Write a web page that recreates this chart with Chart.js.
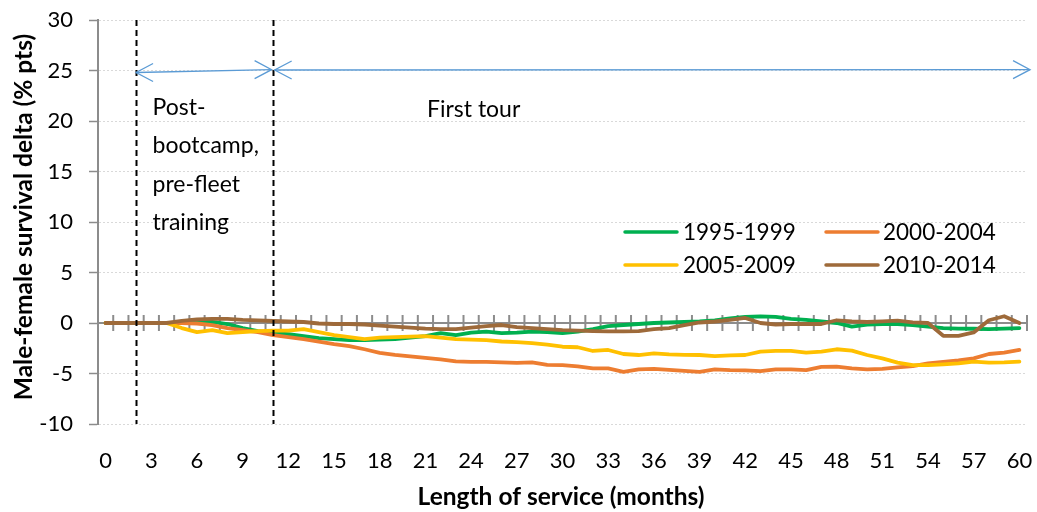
<!DOCTYPE html>
<html><head><meta charset="utf-8">
<script src="https://cdn.jsdelivr.net/npm/chart.js@4"></script>
<style>html,body{margin:0;padding:0;background:#fff}#wrap{width:1037px;height:512px}</style>
</head><body><div id="wrap"><canvas id="c" width="1037" height="512"></canvas></div>
<script>
// Categories: length of service (months)
const months = [0,1,2,3,4,5,6,7,8,9,10,11,12,13,14,15,16,17,18,19,20,21,22,23,24,25,26,27,28,29,30,31,32,33,34,35,36,37,38,39,40,41,42,43,44,45,46,47,48,49,50,51,52,53,54,55,56,57,58,59,60];
const xTickLabels = [0,3,6,9,12,15,18,21,24,27,30,33,36,39,42,45,48,51,54,57,60];
const yTickLabels = [-10,-5,0,5,10,15,20,25,30];
const seriesNames = ['1995-1999','2000-2004','2005-2009','2010-2014'];

const s1995 = [0,0,0,0,0,0,0.1,0.1,-0.1,-0.5,-0.8,-1.0,-1.1,-1.3,-1.5,-1.6,-1.7,-1.7,-1.65,-1.6,-1.45,-1.3,-1.0,-1.2,-0.95,-0.85,-1.0,-0.95,-0.85,-0.9,-1.0,-0.85,-0.6,-0.3,-0.2,-0.1,0,0.05,0.1,0.15,0.25,0.45,0.6,0.65,0.6,0.4,0.3,0.15,0,-0.35,-0.15,-0.1,-0.1,-0.2,-0.35,-0.5,-0.55,-0.57,-0.6,-0.55,-0.5];
const s2000 = [0,0,0,0,0,0,-0.05,-0.2,-0.5,-0.7,-0.9,-1.2,-1.4,-1.6,-1.85,-2.1,-2.3,-2.6,-2.95,-3.15,-3.3,-3.45,-3.6,-3.8,-3.85,-3.85,-3.9,-3.95,-3.9,-4.15,-4.17,-4.3,-4.5,-4.5,-4.83,-4.6,-4.55,-4.65,-4.75,-4.83,-4.6,-4.67,-4.7,-4.77,-4.6,-4.6,-4.67,-4.35,-4.33,-4.5,-4.6,-4.55,-4.4,-4.27,-4.0,-3.85,-3.7,-3.5,-3.07,-2.93,-2.67];
const s2005 = [0,0,0,0,0,-0.5,-0.9,-0.7,-1.0,-0.9,-0.8,-0.75,-0.75,-0.6,-0.9,-1.2,-1.4,-1.6,-1.45,-1.4,-1.35,-1.3,-1.45,-1.6,-1.65,-1.7,-1.83,-1.9,-2.0,-2.15,-2.35,-2.4,-2.77,-2.67,-3.07,-3.17,-3.0,-3.1,-3.15,-3.17,-3.27,-3.2,-3.17,-2.83,-2.75,-2.75,-2.93,-2.83,-2.6,-2.73,-3.17,-3.5,-3.93,-4.17,-4.17,-4.1,-4.0,-3.83,-3.93,-3.9,-3.83];
const s2010 = [0,0,0,0,0,0.2,0.35,0.4,0.4,0.3,0.25,0.2,0.15,0.1,-0.05,-0.1,-0.1,-0.15,-0.25,-0.35,-0.45,-0.55,-0.6,-0.6,-0.45,-0.3,-0.2,-0.4,-0.5,-0.6,-0.7,-0.75,-0.8,-0.83,-0.83,-0.8,-0.6,-0.5,-0.2,0.05,0.15,0.3,0.5,0,-0.15,-0.1,-0.1,-0.1,0.27,0.15,0.1,0.17,0.23,0.07,0,-1.27,-1.27,-0.93,0.27,0.67,0];

const colors = ['#00B050','#ED7D31','#FFC000','#9E6A3A'];
const seriesValues = [s1995,s2000,s2005,s2010];

// Annotation positions (in data units)
const phaseBounds = [2, 11];
const annotationTexts = ['Post-','bootcamp,','pre-fleet','training'];
const FONT = 'Lato';

const datasets = seriesValues.map((vals, i) => ({
  label: seriesNames[i],
  data: months.map((m, j) => ({x: m, y: vals[j]})),
  borderColor: colors[i],
  backgroundColor: colors[i],
  borderWidth: 3.8,
  pointRadius: 0,
  tension: 0,
  borderJoinStyle: 'round',
  borderCapStyle: 'round',
  fill: false,
  order: 4 - i
}));

function arrowHead(ctx, tx, ty, dir) {
  const L = 17, W = 9;
  ctx.beginPath();
  ctx.moveTo(tx - dir * L, ty - W);
  ctx.lineTo(tx, ty);
  ctx.lineTo(tx - dir * L, ty + W);
  ctx.stroke();
}
function arrow(ctx, x1, y1, x2, y2) {
  ctx.beginPath(); ctx.moveTo(x1, y1); ctx.lineTo(x2, y2); ctx.stroke();
  arrowHead(ctx, x1, y1, -1);
  arrowHead(ctx, x2, y2, 1);
}

const zeroAxis = {
  id: 'zeroAxis',
  beforeDatasetsDraw(chart) {
    const {ctx, chartArea, scales: {x, y}} = chart;
    const y0 = y.getPixelForValue(0);
    ctx.save();
    ctx.strokeStyle = '#8C8C8C';
    ctx.lineWidth = 2;
    ctx.beginPath(); ctx.moveTo(chartArea.left, y0); ctx.lineTo(chartArea.right, y0); ctx.stroke();
    for (let i = 0; i <= months.length; i++) {
      const px = x.getPixelForValue(months[0] - 0.5 + i);
      ctx.beginPath(); ctx.moveTo(px, y0 - 8); ctx.lineTo(px, y0 + 8); ctx.stroke();
    }
    ctx.restore();
  }
};

const overlay = {
  id: 'overlay',
  afterDatasetsDraw(chart) {
    const {ctx, chartArea, scales: {x, y}} = chart;
    ctx.save();
    // dashed phase boundaries
    ctx.strokeStyle = '#000';
    ctx.lineWidth = 2;
    ctx.setLineDash([6, 4]);
    phaseBounds.forEach(b => {
      const px = Math.round(x.getPixelForValue(b)) + 0.5;
      ctx.beginPath(); ctx.moveTo(px, y.getPixelForValue(30)); ctx.lineTo(px, y.getPixelForValue(-10)); ctx.stroke();
    });
    ctx.setLineDash([]);
    // arrows
    ctx.strokeStyle = '#5B9BD5';
    ctx.lineWidth = 1.3;
    arrow(ctx, x.getPixelForValue(2), y.getPixelForValue(24.8), x.getPixelForValue(10.9), y.getPixelForValue(25.08));
    arrow(ctx, x.getPixelForValue(11.1), y.getPixelForValue(25.05), x.getPixelForValue(60.7), y.getPixelForValue(25.08));
    // texts
    ctx.fillStyle = '#000';
    ctx.font = '23px ' + FONT;
    ctx.textAlign = 'left';
    ctx.textBaseline = 'alphabetic';
    annotationTexts.forEach((t, i) => ctx.fillText(t, 152.5, 115 + i * 38.3));
    ctx.fillText('First tour', 427, 116.5);
    // legend
    const cols = [[625, 683], [826, 883]];
    const rows = [232, 265];
    ctx.font = '22.5px ' + FONT;
    ctx.textBaseline = 'middle';
    chart.data.datasets.forEach((ds, i) => {
      const c = cols[i % 2], r = rows[Math.floor(i / 2)];
      ctx.strokeStyle = ds.borderColor;
      ctx.lineWidth = 3.5;
      ctx.lineCap = 'round';
      ctx.beginPath(); ctx.moveTo(c[0], r); ctx.lineTo(c[0] + 52, r); ctx.stroke();
      ctx.fillText(ds.label, c[1], r + 1);
    });
    // axis titles
    ctx.font = 'bold 24.5px ' + FONT;
    ctx.textAlign = 'center';
    ctx.textBaseline = 'middle';
    ctx.fillText('Length of service (months)', 561, 497);
    ctx.translate(24, 217);
    ctx.rotate(-Math.PI / 2);
    ctx.fillText('Male-female survival delta (% pts)', 0, 0);
    ctx.restore();
  }
};

function build() {
  new Chart(document.getElementById('c'), {
    type: 'line',
    data: { datasets },
    options: {
      responsive: false,
      animation: false,
      devicePixelRatio: 1,
      layout: { padding: { top: 20, right: 10, left: 0, bottom: 0 } },
      plugins: { legend: { display: false }, tooltip: { enabled: false } },
      scales: {
        x: {
          type: 'linear', min: -0.5, max: 60.5,
          afterBuildTicks(s) { s.ticks = xTickLabels.map(v => ({ value: v })); },
          afterFit(s) { s.height = 88; s.paddingLeft = 0; s.paddingRight = 0; },
          ticks: { autoSkip: false, maxRotation: 0, color: '#000', font: { family: FONT, size: 22 }, padding: 24 },
          grid: { display: false, drawTicks: false },
          border: { display: false }
        },
        y: {
          min: -10, max: 30,
          afterBuildTicks(s) { s.ticks = yTickLabels.map(v => ({ value: v })); },
          afterFit(s) { s.width = 98; s.paddingTop = 0; s.paddingBottom = 0; },
          ticks: { color: '#000', font: { family: FONT, size: 22 }, padding: 16 },
          grid: { color: '#D9D9D9', tickColor: '#8C8C8C', tickLength: 9, tickBorderDash: [], lineWidth: 1, tickWidth: 1.5 },
          border: { display: true, color: '#8C8C8C', width: 2, dash: [2, 2] }
        }
      }
    },
    plugins: [zeroAxis, overlay]
  });
}
Promise.all([document.fonts.load('22px Lato'), document.fonts.load('bold 22px Lato')]).then(build, build);
</script></body></html>
